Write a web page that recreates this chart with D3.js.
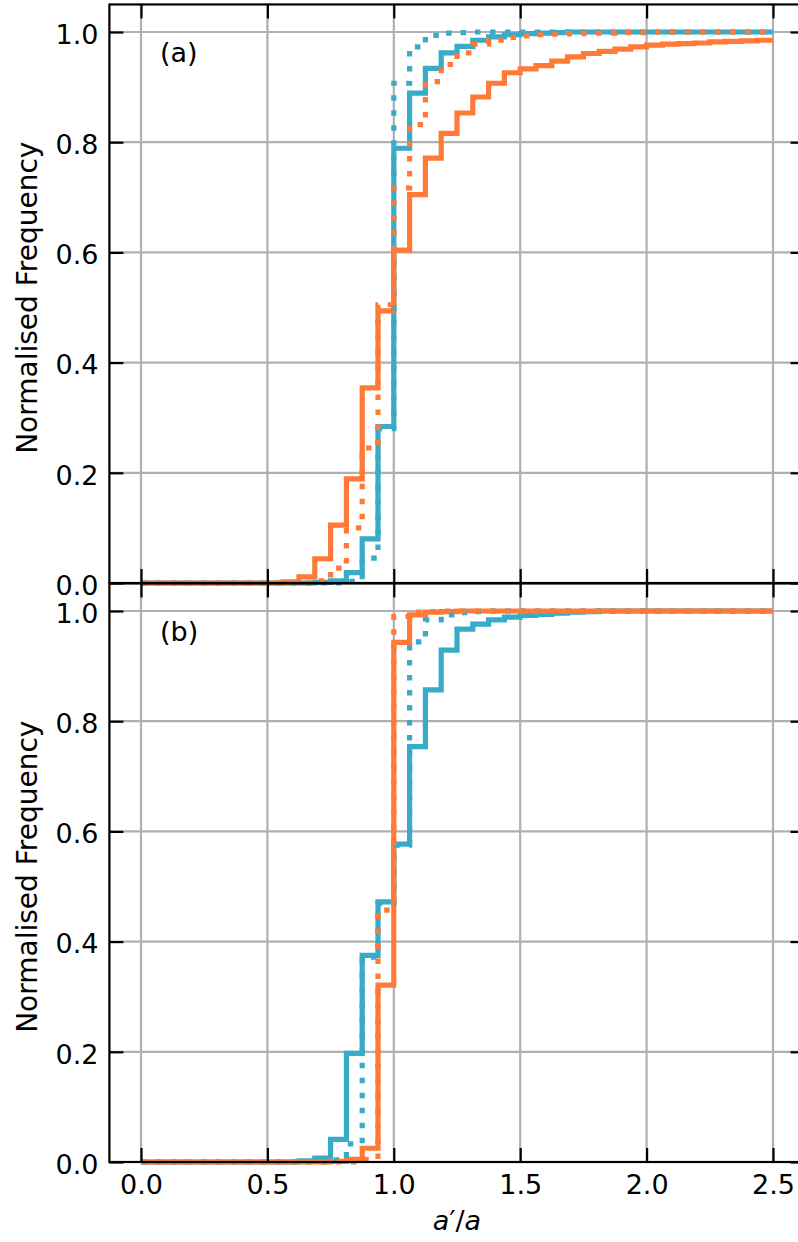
<!DOCTYPE html>
<html lang="en">
<head>
<meta charset="UTF-8">
<title>Cumulative a'/a</title>
<style>
  body { margin: 0; background: #fff; }
  svg { display: block; }
  text { font-family: "DejaVu Sans", sans-serif; }
</style>
<script src="https://d3js.org/d3.v7.min.js"></script>
</head>
<body>
<script>

// 40 bins of width 0.0625 from 0 to 2.5
const binWidth = 0.0625;
const nBins = 40;

const xTicks = [0, 0.5, 1.0, 1.5, 2.0, 2.5];
const yTicks = [0, 0.2, 0.4, 0.6, 0.8, 1.0];
const panelLabels = ["(a)", "(b)"];

// cumulative normalised frequency, one value per bin
const aOrangeSolid = [0,0,0,0,0,0,0,0,0,0.002,
  0.011,0.044,0.105,0.189,0.354,0.494,0.604,0.705,0.771,0.816,
  0.853,0.882,0.907,0.926,0.933,0.939,0.947,0.955,0.961,0.965,
  0.969,0.973,0.976,0.978,0.979,0.980,0.982,0.983,0.984,0.985];
const aBlueSolid = [0,0,0,0,0,0,0,0,0,0,
  0,0.001,0.004,0.019,0.080,0.284,0.789,0.889,0.934,0.962,
  0.974,0.985,0.991,0.995,0.997,0.998,0.999,1,1,1,
  1,1,1,1,1,1,1,1,1,1];
const aOrangeDotted = [0,0,0,0,0,0,0,0,0,0,
  0,0.004,0.027,0.100,0.245,0.505,0.717,0.832,0.910,0.941,
  0.962,0.978,0.985,0.990,0.993,0.995,0.996,0.997,0.998,0.998,
  0.999,0.999,1,1,1,1,1,1,1,1];
const aBlueDotted = [0,0,0,0,0,0,0,0,0,0,
  0,0,0,0.003,0.045,0.280,0.907,0.973,0.994,0.998,
  0.999,1,1,1,1,1,1,1,1,1,
  1,1,1,1,1,1,1,1,1,1];

const bOrangeSolid = [0,0,0,0,0,0,0,0,0,0,
  0,0,0.001,0.005,0.025,0.321,0.943,0.993,0.998,0.999,
  1,1,1,1,1,1,1,1,1,1,
  1,1,1,1,1,1,1,1,1,1];
const bBlueSolid = [0,0,0,0,0,0,0,0,0,0,
  0.002,0.007,0.041,0.197,0.375,0.472,0.577,0.754,0.857,0.929,
  0.967,0.976,0.984,0.989,0.992,0.994,0.996,0.998,0.999,1,
  1,1,1,1,1,1,1,1,1,1];
const bOrangeDotted = [0,0,0,0,0,0,0,0,0,0,
  0,0,0,0,0.005,0.457,0.990,0.998,0.999,1,
  1,1,1,1,1,1,1,1,1,1,
  1,1,1,1,1,1,1,1,1,1];
const bBlueDotted = [0,0,0,0,0,0,0,0,0,0,
  0,0,0.004,0.033,0.372,0.470,0.575,0.944,0.984,0.993,
  0.997,0.999,1,1,1,1,1,1,1,1,
  1,1,1,1,1,1,1,1,1,1];

const orange = "#ff7a36";
const blue = "#37abc8";

const W = 798, H = 1242;
const xLeft = 109.4, xRight = 804.6;
const fs = 27, tickLen = 14;

const panels = [
  {top: 4.45, bottom: 583, label: panelLabels[0], xLabels: false,
   series: [[aBlueSolid, blue, false], [aOrangeSolid, orange, false],
            [aBlueDotted, blue, true], [aOrangeDotted, orange, true]]},
  {top: 583.45, bottom: 1162, label: panelLabels[1], xLabels: true,
   series: [[bBlueSolid, blue, false], [bOrangeSolid, orange, false],
            [bBlueDotted, blue, true], [bOrangeDotted, orange, true]]}
];

const svg = d3.select("body").append("svg")
    .attr("width", W)
    .attr("height", H);

const x = d3.scaleLinear().domain([-0.125, 2.625]).range([xLeft, xRight]);
const fmt = d3.format(".1f");

function styleAxis(g) {
  g.select(".domain").remove();
  g.attr("font-size", fs).attr("font-family", "DejaVu Sans");
  g.selectAll(".tick line").attr("stroke", "#000").attr("stroke-width", 2.2);
  g.selectAll(".tick text").attr("fill", "#000");
}

panels.forEach(function(p) {
  const y = d3.scaleLinear().domain([0, 1.05]).range([p.bottom, p.top]);
  const g = svg.append("g");

  // grid
  g.append("g").selectAll("line.vg")
      .data(xTicks).enter().append("line")
      .attr("x1", d => x(d)).attr("x2", d => x(d))
      .attr("y1", p.top).attr("y2", p.bottom)
      .attr("stroke", "#b0b0b0").attr("stroke-width", 2.2);
  g.append("g").selectAll("line.hg")
      .data(yTicks).enter().append("line")
      .attr("x1", xLeft).attr("x2", xRight)
      .attr("y1", d => y(d)).attr("y2", d => y(d))
      .attr("stroke", "#b0b0b0").attr("stroke-width", 2.2);

  // cumulative step histograms
  const line = d3.line()
      .x(d => x(d[0]))
      .y(d => y(d[1]))
      .curve(d3.curveStepAfter);

  p.series.forEach(function(s) {
    const vals = s[0];
    const pts = [[0, 0]];
    vals.forEach((v, i) => pts.push([i * binWidth, v]));
    pts.push([nBins * binWidth, vals[vals.length - 1]]);
    g.append("path")
        .attr("d", line(pts))
        .attr("fill", "none")
        .attr("stroke", s[1])
        .attr("stroke-width", 5.2)
        .attr("stroke-linejoin", "miter")
        .attr("stroke-linecap", "butt")
        .attr("stroke-dasharray", s[2] ? "5.5 9.5" : null);
  });

  // axes with inward ticks on all sides
  g.append("g")
      .attr("transform", "translate(" + xLeft + ",0)")
      .call(d3.axisLeft(y).tickValues(yTicks).tickSize(-tickLen).tickPadding(11).tickFormat(fmt))
      .call(styleAxis)
      .call(a => a.selectAll(".tick text").attr("dy", "0.42em"));
  g.append("g")
      .attr("transform", "translate(" + xRight + ",0)")
      .call(d3.axisRight(y).tickValues(yTicks).tickSize(-tickLen).tickFormat(""))
      .call(styleAxis);
  g.append("g")
      .attr("transform", "translate(0," + p.top + ")")
      .call(d3.axisTop(x).tickValues(xTicks).tickSize(-tickLen).tickFormat(""))
      .call(styleAxis);
  g.append("g")
      .attr("transform", "translate(0," + p.bottom + ")")
      .call(d3.axisBottom(x).tickValues(xTicks).tickSize(-tickLen).tickPadding(13)
            .tickFormat(p.xLabels ? fmt : ""))
      .call(styleAxis);

  // frame
  g.append("rect")
      .attr("x", xLeft).attr("y", p.top)
      .attr("width", xRight - xLeft).attr("height", p.bottom - p.top)
      .attr("fill", "none").attr("stroke", "#000").attr("stroke-width", 2.2);

  g.append("text")
      .attr("x", x(0.075))
      .attr("y", y(0.946))
      .attr("font-size", fs)
      .text(p.label);

  g.append("text")
      .attr("transform", "translate(37," + ((p.top + p.bottom) / 2 + 4) + ") rotate(-90)")
      .attr("text-anchor", "middle")
      .attr("font-size", 28)
      .text("Normalised Frequency");
});

// x label
const xl = svg.append("text")
    .attr("x", (xLeft + xRight) / 2)
    .attr("y", 1230)
    .attr("text-anchor", "middle")
    .attr("font-size", fs);
xl.append("tspan").attr("font-style", "italic").text("a");
xl.append("tspan").text("′/");
xl.append("tspan").attr("font-style", "italic").text("a");

</script>
</body>
</html>
